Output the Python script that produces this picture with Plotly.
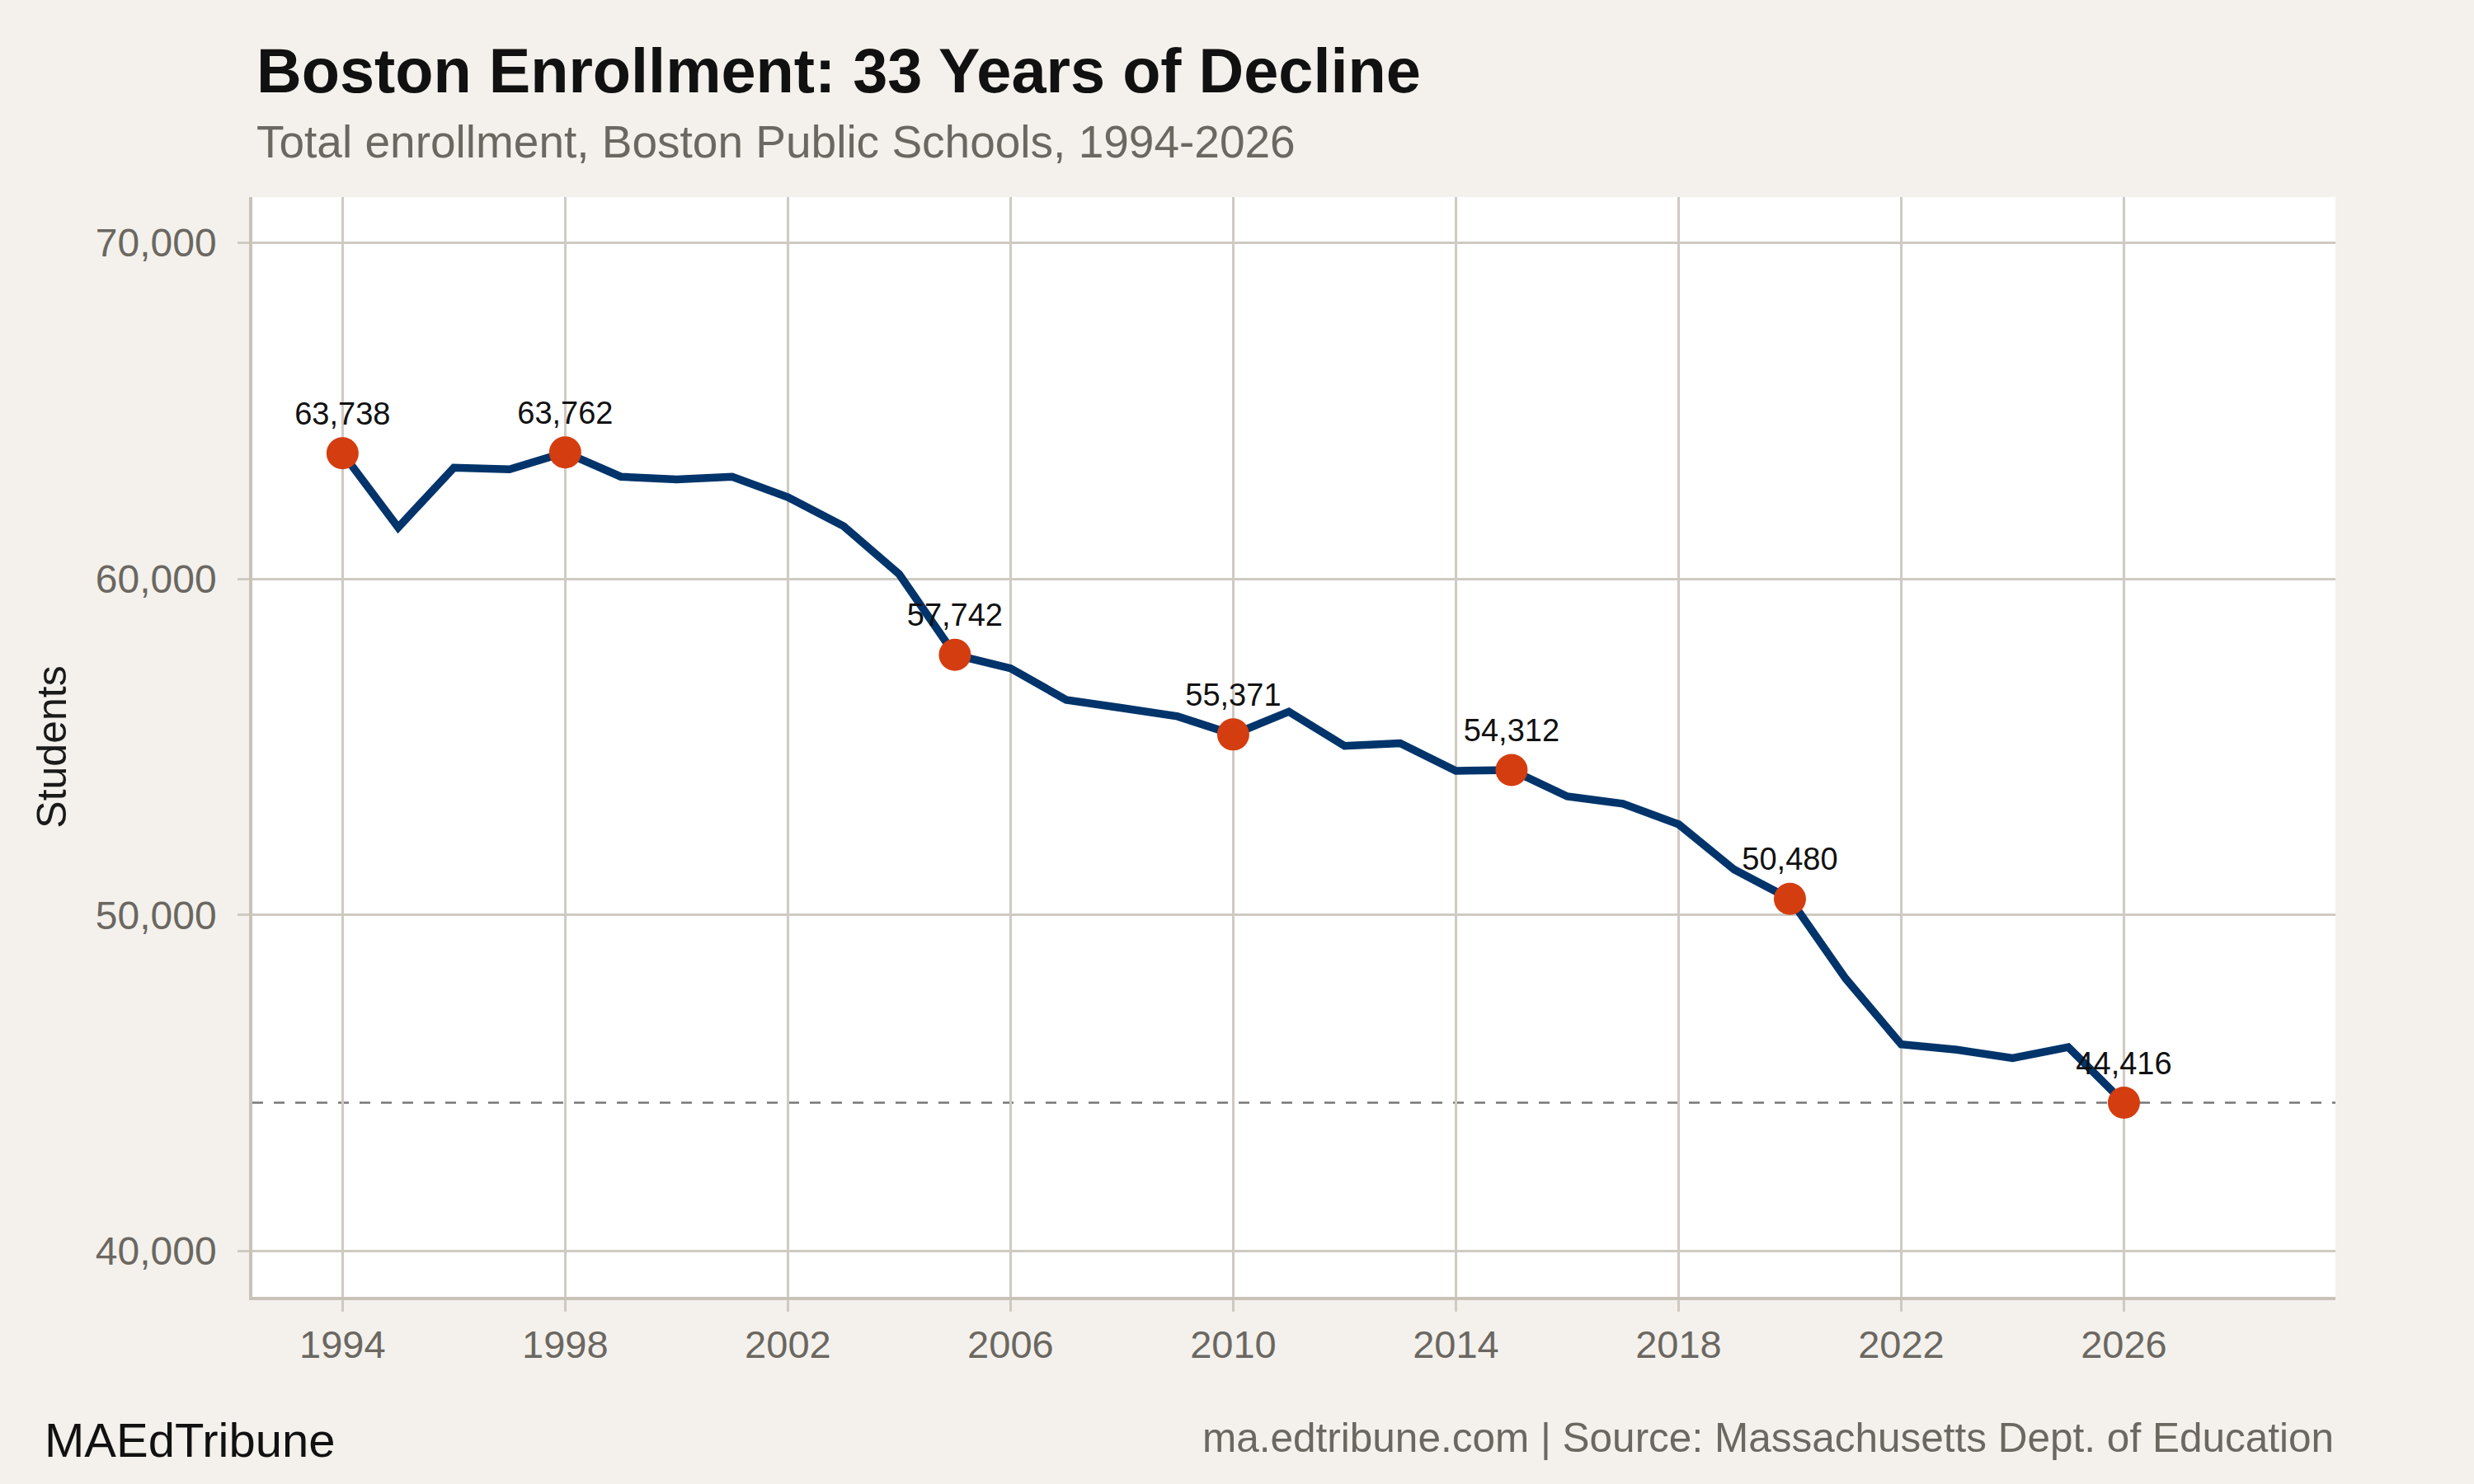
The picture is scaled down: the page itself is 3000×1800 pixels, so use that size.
import plotly.graph_objects as go

years = list(range(1994, 2027))
enrollment = [63738, 61530, 63310, 63260, 63762, 63040, 62960, 63040, 62430, 61570,
              60140, 57742, 57340, 56400, 56160, 55910, 55371, 56050, 55030, 55110,
              54290, 54312, 53530, 53310, 52700, 51350, 50480, 48110, 46150, 45990,
              45740, 46070, 44416]
label_years = [1994, 1998, 2005, 2010, 2015, 2020, 2026]
label_values = [enrollment[years.index(y)] for y in label_years]

x_ticks = list(range(1994, 2027, 4))
y_ticks = [40000, 50000, 60000, 70000]

navy = "#00346a"
orange = "#d43d0f"
grid = "#cfcac2"
gray_text = "#6b6761"
font = "Liberation Sans"

fig = go.Figure()

fig.add_trace(go.Scatter(
    x=years, y=enrollment, mode="lines",
    line=dict(color=navy, width=9.5),
    hoverinfo="skip", showlegend=False))

fig.add_trace(go.Scatter(
    x=label_years, y=label_values, mode="markers+text",
    marker=dict(color=orange, size=39),
    text=[f"{v:,}" for v in label_values],
    textposition="top center",
    textfont=dict(family=font, size=38, color="#111111"),
    showlegend=False))

fig.add_shape(type="line", xref="paper", x0=0, x1=1, y0=enrollment[-1], y1=enrollment[-1],
              line=dict(color="#777777", width=2.7, dash="13px,13px"), layer="between")

fig.update_xaxes(
    range=[1992.38, 2029.8], tickvals=x_ticks,
    showgrid=True, gridcolor=grid, gridwidth=2.5,
    showline=True, linecolor="#c8c2b8", linewidth=3.5,
    ticks="outside", ticklen=14, tickwidth=2.5, tickcolor=grid,
    tickfont=dict(family=font, size=47, color=gray_text),
    zeroline=False)

fig.update_yaxes(
    range=[38640, 71360], tickvals=y_ticks, tickformat=",d",
    showgrid=True, gridcolor=grid, gridwidth=2.5,
    showline=True, linecolor="#c8c2b8", linewidth=3.5,
    ticks="outside", ticklen=14, tickwidth=2.5, tickcolor=grid,
    ticklabelstandoff=16,
    tickfont=dict(family=font, size=48, color=gray_text),
    title=dict(text="Students", font=dict(family=font, size=50, color="#1a1a1a"), standoff=20),
    zeroline=False)

fig.add_annotation(text="<b>Boston Enrollment: 33 Years of Decline</b>", xref="paper", yref="paper",
                   x=0.001, y=1.115, xanchor="left", yanchor="middle", showarrow=False,
                   font=dict(family=font, size=75.7, color="#111111"))
fig.add_annotation(text="Total enrollment, Boston Public Schools, 1994-2026", xref="paper", yref="paper",
                   x=0.001, y=1.050, xanchor="left", yanchor="middle", showarrow=False,
                   font=dict(family=font, size=55, color=gray_text))
fig.add_annotation(text="MAEdTribune", xref="paper", yref="paper",
                   x=-0.1006, y=-0.1297, xanchor="left", yanchor="middle", showarrow=False,
                   font=dict(family=font, size=58, color="#111111"))
fig.add_annotation(text="ma.edtribune.com | Source: Massachusetts Dept. of Education", xref="paper", yref="paper",
                   x=1, y=-0.1278, xanchor="right", yanchor="middle", showarrow=False,
                   font=dict(family=font, size=49.5, color=gray_text))

fig.update_layout(
    width=3000, height=1800,
    margin=dict(l=306, r=168, t=239, b=227),
    paper_bgcolor="#f4f1ec", plot_bgcolor="#ffffff",
    showlegend=False)

fig.write_html("out.html", config={"displayModeBar": False},
               post_script="document.body.style.margin='0';")
